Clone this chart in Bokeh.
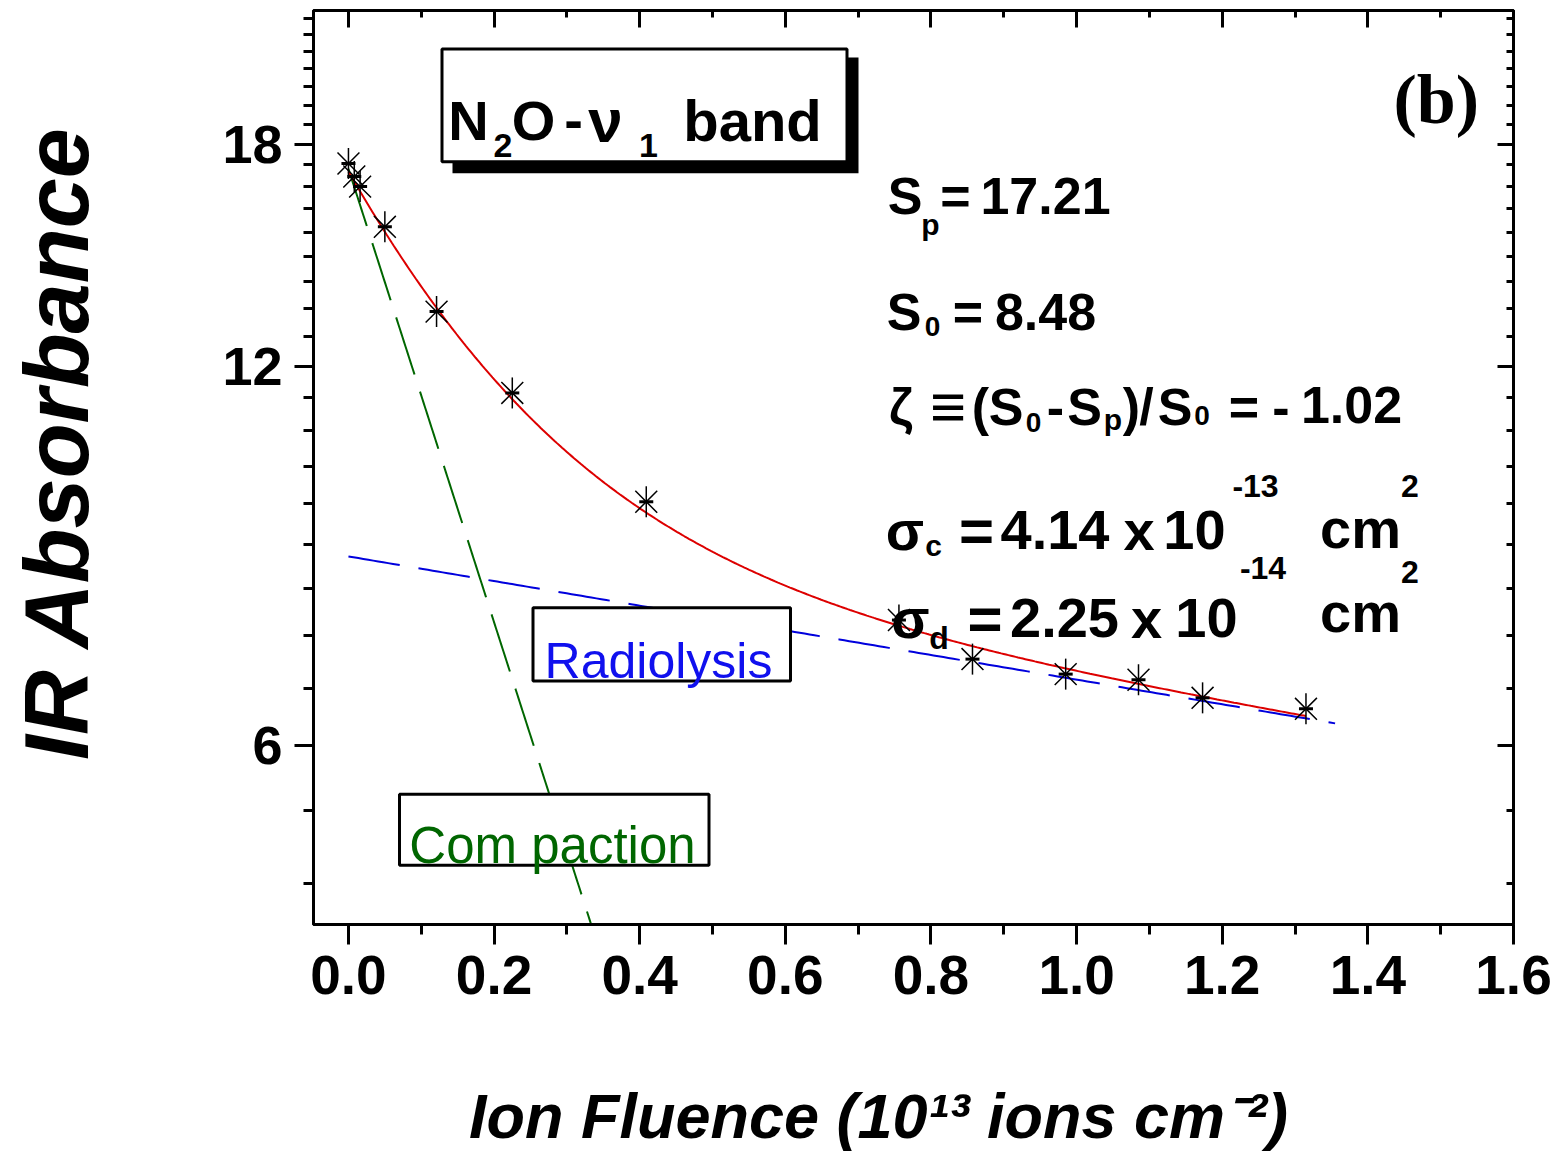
import numpy as np
from bokeh.plotting import figure
from bokeh.models import (Range1d, FixedTicker, LinearAxis, LogAxis, Label,
                          PrintfTickFormatter, CustomJSTickFormatter)
from bokeh.embed import file_html
from bokeh.resources import INLINE

# N2O nu1 band: integrated absorbance vs. ion fluence (10^13 ions cm^-2)
fluence = [0.000, 0.008, 0.016, 0.050, 0.121, 0.225, 0.409, 0.756, 0.857, 0.985, 1.085, 1.173, 1.315]
absorbance = [17.38, 16.97, 16.66, 15.48, 13.26, 11.43, 9.37, 7.55, 7.03, 6.84, 6.77, 6.55, 6.42]

# fit parameters (cross sections expressed per 10^13 ions cm^-2)
S_p = 17.21
S_0 = 8.48
zeta = -1.02
sigma_c = 4.14    # 4.14e-13 cm^2
sigma_d = 0.225   # 2.25e-14 cm^2

# extent of each fitted curve along the fluence axis
fit_end = 1.315
radiolysis_end = 1.355
compaction_end = 0.36

x_ticks = [0.0, 0.2, 0.4, 0.6, 0.8, 1.0, 1.2, 1.4, 1.6]
y_ticks = [6, 12, 18]

NB = "\u00a0"   # non-breaking spaces nudge the centred axis titles
x_title = "Ion Fluence (10¹³ ions cm⁻²)"
y_title = "IR Absorbance"

# ---------------------------------------------------------------- layout
W, H = 1554, 1153
LEFT, RIGHT, TOP, BOTTOM = 313, 41, 10, 227
X0, X1 = -0.048, 1.6
Y0, Y1 = 4.33, 22.98
FW, FH = W - LEFT - RIGHT, H - TOP - BOTTOM


def fx(px):
    return X0 + (px - LEFT) / FW * (X1 - X0)


def fy(py):
    l0, l1 = np.log10(Y0), np.log10(Y1)
    return 10 ** (l1 - (py - TOP) / FH * (l1 - l0))


p = figure(width=W, height=H, x_range=Range1d(X0, X1), y_range=Range1d(Y0, Y1),
           y_axis_type="log", output_backend="svg", toolbar_location=None,
           min_border_left=LEFT, min_border_right=RIGHT,
           min_border_top=TOP, min_border_bottom=BOTTOM)
p.background_fill_color = "white"
p.border_fill_color = "white"
p.outline_line_color = "black"
p.outline_line_width = 3
p.xgrid.visible = False
p.ygrid.visible = False

x_minor = [round(0.1 + 0.2 * i, 2) for i in range(8)]
y_minor = [v for v in (4 + k * 2 / 3 for k in range(29))
           if all(abs(v - t) > 1e-6 for t in y_ticks)]
xt = FixedTicker(ticks=x_ticks, minor_ticks=x_minor)
yt = FixedTicker(ticks=y_ticks, minor_ticks=y_minor)

TICK_FONT = "Liberation Sans"
TITLE_FONT = "Liberation Sans"

bx = p.xaxis[0]
bx.ticker = xt
bx.formatter = PrintfTickFormatter(format="%.1f")
bx.major_label_text_font = TICK_FONT
bx.major_label_text_font_style = "bold"
bx.major_label_text_font_size = "55px"
bx.major_label_text_color = "black"
bx.major_label_standoff = 11
bx.major_tick_out, bx.major_tick_in = 20, 0
bx.minor_tick_out, bx.minor_tick_in = 10, 0
bx.major_tick_line_width = 3
bx.minor_tick_line_width = 3
bx.axis_line_width = 3
bx.axis_label = x_title + NB * 4
bx.axis_label_text_font = TITLE_FONT
bx.axis_label_text_font_style = "bold italic"
bx.axis_label_text_font_size = "63px"
bx.axis_label_text_color = "black"
bx.axis_label_standoff = 84

ly = p.yaxis[0]
ly.ticker = yt
ly.formatter = PrintfTickFormatter(format="%d")
ly.major_label_text_font = TICK_FONT
ly.major_label_text_font_style = "bold"
ly.major_label_text_font_size = "54px"
ly.major_label_text_color = "black"
ly.major_label_standoff = 12
ly.major_tick_out, ly.major_tick_in = 19, 0
ly.minor_tick_out, ly.minor_tick_in = 10, 0
ly.major_tick_line_width = 3
ly.minor_tick_line_width = 3
ly.axis_line_width = 3
ly.axis_label = NB * 2 + y_title
ly.axis_label_text_font = TITLE_FONT
ly.axis_label_text_font_style = "bold italic"
ly.axis_label_text_font_size = "90px"
ly.axis_label_text_color = "black"
ly.axis_label_standoff = 112

blank = CustomJSTickFormatter(code="return ''")
top_ax = LinearAxis(ticker=xt, formatter=blank, major_label_standoff=0,
                    major_tick_in=17, major_tick_out=0, minor_tick_in=7, minor_tick_out=0,
                    major_tick_line_width=3, minor_tick_line_width=3, axis_line_width=3)
p.add_layout(top_ax, "above")
right_ax = LogAxis(ticker=yt, formatter=blank, major_label_standoff=0,
                   major_tick_in=16, major_tick_out=0, minor_tick_in=7, minor_tick_out=0,
                   major_tick_line_width=3, minor_tick_line_width=3, axis_line_width=3)
p.add_layout(right_ax, "right")

# ---------------------------------------------------------------- curves
F_fit = np.linspace(0.0, fit_end, 400)
F_rad = np.linspace(0.0, radiolysis_end, 200)
F_comp = np.linspace(0.0, compaction_end, 200)
total = S_0 * np.exp(-sigma_d * F_fit) * (1 - zeta * np.exp(-sigma_c * F_fit))
radiolysis = S_0 * np.exp(-sigma_d * F_rad)
compaction = S_p * np.exp(-sigma_c * F_comp)

p.line(F_comp, compaction, line_color="#006600", line_width=2, line_dash="60 18")
p.line(F_rad, radiolysis, line_color="#0000dd", line_width=2, line_dash="52 19")
p.line(F_fit, total, line_color="#dd0000", line_width=2)


# ---------------------------------------------------------------- boxes
def box(l, t, r, b, lw=3, fill="white", line="black"):
    p.quad(left=fx(l), right=fx(r), top=fy(t), bottom=fy(b),
           fill_color=fill, line_color=line, line_width=lw)


box(452, 57, 858, 173, lw=0, fill="black", line=None)   # drop shadow
box(441.5, 48.5, 846.5, 161.5)
box(532.5, 608.5, 790, 682)
box(399, 795.5, 708.5, 866.5)

# data points
p.scatter(fluence, absorbance, marker="x", size=31, line_color="black", line_width=1.5)
p.scatter(fluence, absorbance, marker="dash", angle=np.pi / 2, size=31,
          line_color="black", line_width=1.5)
p.scatter(fluence, absorbance, marker="dash", size=14, line_color="black", line_width=3)


# ---------------------------------------------------------------- text
def put(txt, px, py, size, font="Liberation Sans", style="bold", color="black",
        align="center"):
    p.add_layout(Label(x=fx(px), y=fy(py), text=txt, text_font=font,
                       text_font_size=f"{size}px", text_font_style=style,
                       text_color=color, text_align=align, text_baseline="alphabetic"))


# panel tag
put("(b)", 1393, 99, 70, "Liberation Serif", "bold", align="left")

# band title
put("N", 468, 120, 56)
put("2", 502.5, 145, 34)
put("O", 533, 120, 56)
put("-", 573, 120, 56)
put("ν", 605, 120, 62)
put("1", 648, 145, 34)
put("band", 752, 120, 58)

# fit results
put("S", 904.5, 196, 52)
put("p", 930, 224, 30)
put("=", 955, 196, 52)
put(f"{S_p:.2f}", 1045, 196, 52)

put("S", 903.5, 312, 52)
put("0", 932, 327, 28)
put("=", 967.5, 312, 52)
put(f"{S_0:.2f}", 1045, 312, 52)

put("ζ", 900.5, 407, 52)
put("≡", 947.5, 407, 62)
put("(", 980, 407, 52)
put("S", 1005.5, 407, 52)
put("0", 1033, 423, 28)
put("-", 1055, 407, 52)
put("S", 1084, 407, 52)
put("p", 1112.5, 420, 30)
put(")", 1131, 407, 52)
put("/", 1146, 407, 52)
put("S", 1174.5, 407, 52)
put("0", 1201.5, 416, 28)
put("=", 1243.5, 407, 52)
put("-", 1280.5, 407, 52)
put(f"{abs(zeta):.2f}", 1351, 405, 52)

put("σ", 904.5, 531, 56)
put("c", 933, 546, 30)
put("=", 976, 531, 60)
put("4.14", 1054.5, 531, 56)
put("x", 1138.5, 531, 56)
put("10", 1194, 531, 56)
put("-13", 1255, 487, 32)
put("cm", 1360, 529, 56)
put("2", 1409.5, 487, 32)

put("σ", 910, 619, 56)
put("d", 938.5, 639, 32)
put("=", 984.5, 619, 60)
put("2.25", 1064, 619, 56)
put("x", 1146, 619, 56)
put("10", 1206, 619, 56)
put("-14", 1262.5, 569, 32)
put("cm", 1360, 613, 56)
put("2", 1409.5, 573, 32)

# curve names
put("Radiolysis", 658, 662, 50, "Liberation Sans", "normal", "#1010ee")
put("Com paction", 552, 847, 51, "Liberation Sans", "normal", "#006600")

open("out.html", "w").write(file_html(p, INLINE))
